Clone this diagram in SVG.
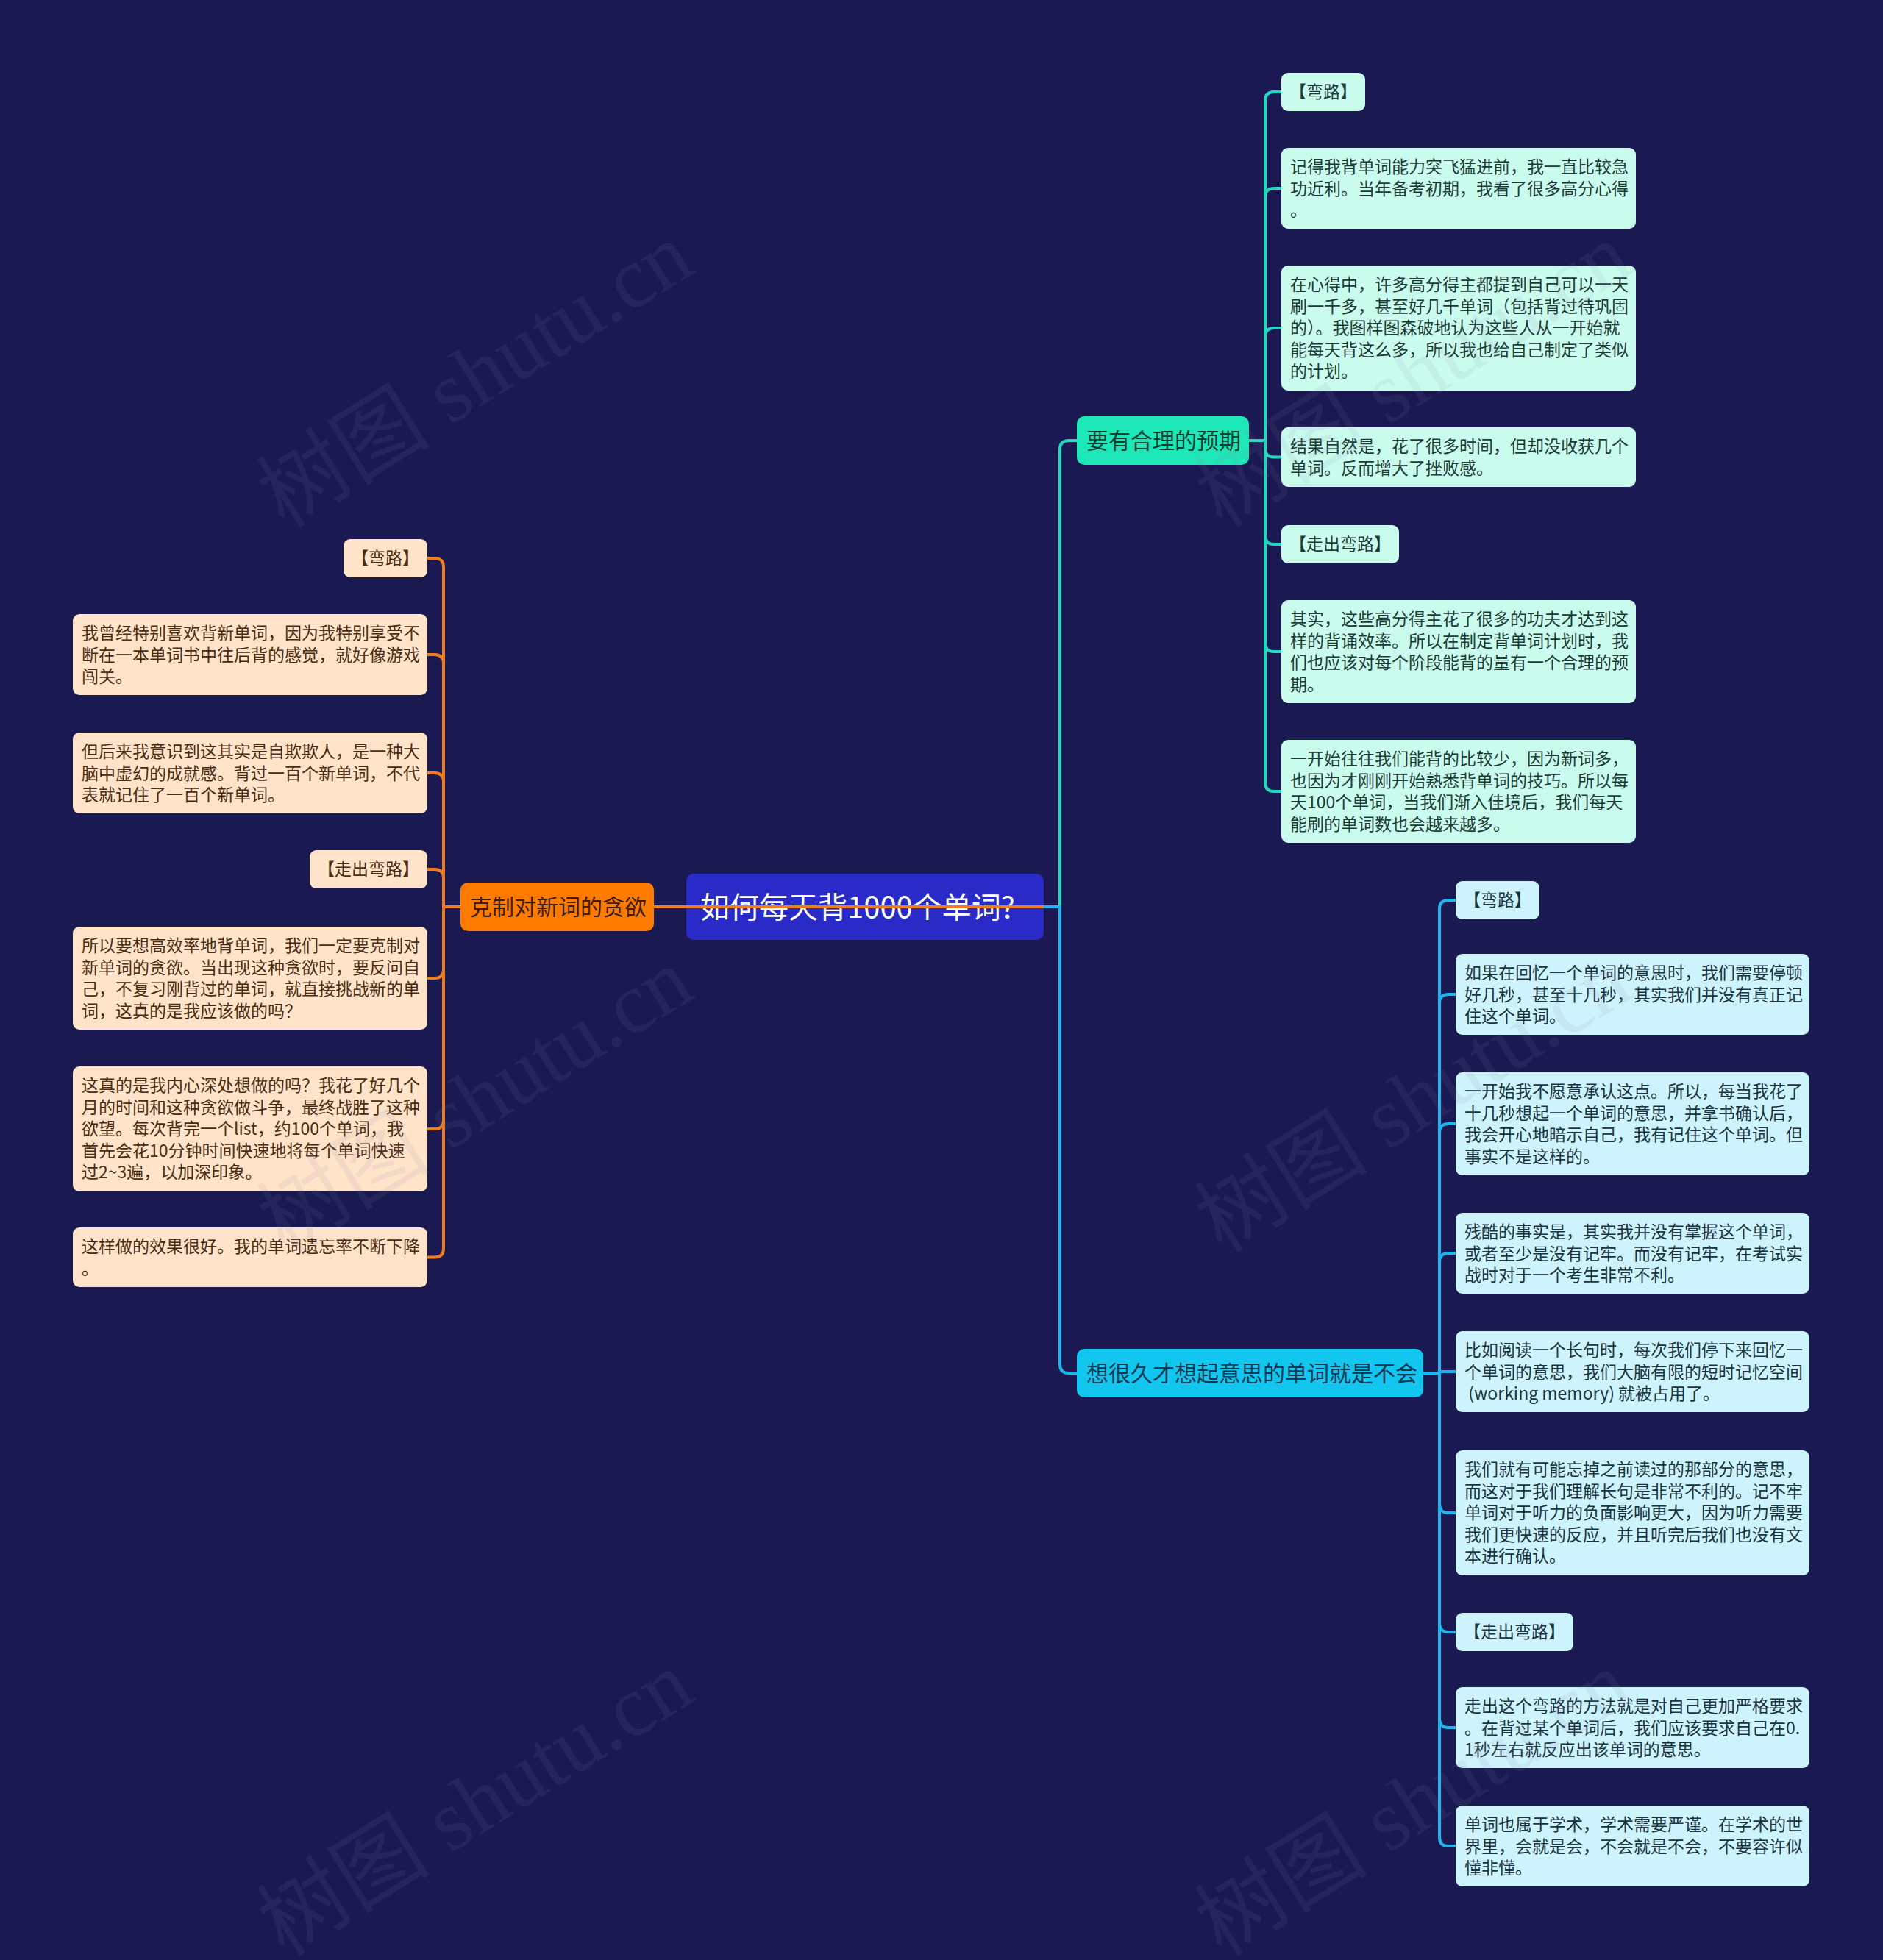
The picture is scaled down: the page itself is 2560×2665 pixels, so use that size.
<svg xmlns="http://www.w3.org/2000/svg" width="2560" height="2665" viewBox="0 0 2560 2665">
<style>
text{font-family:"Noto Sans CJK SC","Noto Sans",sans-serif}
.s{font-size:23px}
.m{font-size:30px}
.rt{fill:#2a2ac8}
.rtt{font-size:40px;fill:#ffffff}
.bo{fill:#ff7b00}.bot{fill:#3d1e00}
.bt{fill:#1de7b6}.btt{fill:#0c3d33}
.bb{fill:#12c6ef}.bbt{fill:#0b3a52}
.co{fill:#ffe4c9}.cot{fill:#4b2c12}
.ct{fill:#cafcee}.ctt{fill:#1c3b36}
.cb{fill:#cdf3fc}.cbt{fill:#1a3340}
.lo{fill:none;stroke:#f07d1c;stroke-width:4}
.lt{fill:none;stroke:#22d9c0;stroke-width:4}
.lb{fill:none;stroke:#1db6ee;stroke-width:4}
.wm{font-family:"Liberation Serif","Noto Sans CJK SC",serif;font-size:118px;fill:#8a8aa8;opacity:0.11}
</style>
<rect x="0" y="0" width="2560" height="2665" fill="#1a1952"/>

<g id="root"><rect class="rt" x="933" y="1188" width="486" height="90" rx="10"/><text class="rtt" x="952" y="1248">如何每天背1000个单词?</text></g>

<g id="b-left"><rect class="bo" x="626" y="1200" width="263" height="66" rx="10"/><text class="m bot" x="639" y="1244">克制对新词的贪欲</text></g>
<g id="b-r1"><rect class="bt" x="1464" y="566" width="234" height="66" rx="10"/><text class="m btt" x="1477" y="610">要有合理的预期</text></g>
<g id="b-r2"><rect class="bb" x="1464" y="1834" width="471" height="66" rx="10"/><text class="m bbt" x="1477" y="1878">想很久才想起意思的单词就是不会</text></g>

<g id="l1"><rect class="co" x="467" y="733" width="114" height="52" rx="9"/><text class="s cot" x="478" y="767">【弯路】</text></g>
<g id="l2"><rect class="co" x="99" y="835" width="482" height="110" rx="9"/><text class="s cot" x="111" y="869"><tspan x="111">我曾经特别喜欢背新单词，因为我特别享受不</tspan><tspan x="111" dy="29.5">断在一本单词书中往后背的感觉，就好像游戏</tspan><tspan x="111" dy="29.5">闯关。</tspan></text></g>
<g id="l3"><rect class="co" x="99" y="996" width="482" height="110" rx="9"/><text class="s cot" x="111" y="1030"><tspan x="111">但后来我意识到这其实是自欺欺人，是一种大</tspan><tspan x="111" dy="29.5">脑中虚幻的成就感。背过一百个新单词，不代</tspan><tspan x="111" dy="29.5">表就记住了一百个新单词。</tspan></text></g>
<g id="l4"><rect class="co" x="421" y="1156" width="160" height="52" rx="9"/><text class="s cot" x="432" y="1190">【走出弯路】</text></g>
<g id="l5"><rect class="co" x="99" y="1260" width="482" height="140" rx="9"/><text class="s cot" x="111" y="1294"><tspan x="111">所以要想高效率地背单词，我们一定要克制对</tspan><tspan x="111" dy="29.5">新单词的贪欲。当出现这种贪欲时，要反问自</tspan><tspan x="111" dy="29.5">己，不复习刚背过的单词，就直接挑战新的单</tspan><tspan x="111" dy="29.5">词，这真的是我应该做的吗？</tspan></text></g>
<g id="l6"><rect class="co" x="99" y="1450" width="482" height="170" rx="9"/><text class="s cot" x="111" y="1484"><tspan x="111">这真的是我内心深处想做的吗？我花了好几个</tspan><tspan x="111" dy="29.5">月的时间和这种贪欲做斗争，最终战胜了这种</tspan><tspan x="111" dy="29.5">欲望。每次背完一个list，约100个单词，我</tspan><tspan x="111" dy="29.5">首先会花10分钟时间快速地将每个单词快速</tspan><tspan x="111" dy="29.5">过2~3遍，以加深印象。</tspan></text></g>
<g id="l7"><rect class="co" x="99" y="1669" width="482" height="81" rx="9"/><text class="s cot" x="111" y="1703"><tspan x="111">这样做的效果很好。我的单词遗忘率不断下降</tspan><tspan x="111" dy="29.5">。</tspan></text></g>

<g id="r1a"><rect class="ct" x="1742" y="99" width="114" height="52" rx="9"/><text class="s ctt" x="1753" y="133">【弯路】</text></g>
<g id="r1b"><rect class="ct" x="1742" y="201" width="482" height="110" rx="9"/><text class="s ctt" x="1754" y="235"><tspan x="1754">记得我背单词能力突飞猛进前，我一直比较急</tspan><tspan x="1754" dy="29.5">功近利。当年备考初期，我看了很多高分心得</tspan><tspan x="1754" dy="29.5">。</tspan></text></g>
<g id="r1c"><rect class="ct" x="1742" y="361" width="482" height="170" rx="9"/><text class="s ctt" x="1754" y="395"><tspan x="1754">在心得中，许多高分得主都提到自己可以一天</tspan><tspan x="1754" dy="29.5">刷一千多，甚至好几千单词（包括背过待巩固</tspan><tspan x="1754" dy="29.5">的）。我图样图森破地认为这些人从一开始就</tspan><tspan x="1754" dy="29.5">能每天背这么多，所以我也给自己制定了类似</tspan><tspan x="1754" dy="29.5">的计划。</tspan></text></g>
<g id="r1d"><rect class="ct" x="1742" y="581" width="482" height="81" rx="9"/><text class="s ctt" x="1754" y="615"><tspan x="1754">结果自然是，花了很多时间，但却没收获几个</tspan><tspan x="1754" dy="29.5">单词。反而增大了挫败感。</tspan></text></g>
<g id="r1e"><rect class="ct" x="1742" y="714" width="160" height="52" rx="9"/><text class="s ctt" x="1753" y="748">【走出弯路】</text></g>
<g id="r1f"><rect class="ct" x="1742" y="816" width="482" height="140" rx="9"/><text class="s ctt" x="1754" y="850"><tspan x="1754">其实，这些高分得主花了很多的功夫才达到这</tspan><tspan x="1754" dy="29.5">样的背诵效率。所以在制定背单词计划时，我</tspan><tspan x="1754" dy="29.5">们也应该对每个阶段能背的量有一个合理的预</tspan><tspan x="1754" dy="29.5">期。</tspan></text></g>
<g id="r1g"><rect class="ct" x="1742" y="1006" width="482" height="140" rx="9"/><text class="s ctt" x="1754" y="1040"><tspan x="1754">一开始往往我们能背的比较少，因为新词多，</tspan><tspan x="1754" dy="29.5">也因为才刚刚开始熟悉背单词的技巧。所以每</tspan><tspan x="1754" dy="29.5">天100个单词，当我们渐入佳境后，我们每天</tspan><tspan x="1754" dy="29.5">能刷的单词数也会越来越多。</tspan></text></g>

<g id="r2a"><rect class="cb" x="1979" y="1198" width="114" height="52" rx="9"/><text class="s cbt" x="1990" y="1232">【弯路】</text></g>
<g id="r2b"><rect class="cb" x="1979" y="1297" width="481" height="110" rx="9"/><text class="s cbt" x="1991" y="1331"><tspan x="1991">如果在回忆一个单词的意思时，我们需要停顿</tspan><tspan x="1991" dy="29.5">好几秒，甚至十几秒，其实我们并没有真正记</tspan><tspan x="1991" dy="29.5">住这个单词。</tspan></text></g>
<g id="r2c"><rect class="cb" x="1979" y="1458" width="481" height="140" rx="9"/><text class="s cbt" x="1991" y="1492"><tspan x="1991">一开始我不愿意承认这点。所以，每当我花了</tspan><tspan x="1991" dy="29.5">十几秒想起一个单词的意思，并拿书确认后，</tspan><tspan x="1991" dy="29.5">我会开心地暗示自己，我有记住这个单词。但</tspan><tspan x="1991" dy="29.5">事实不是这样的。</tspan></text></g>
<g id="r2d"><rect class="cb" x="1979" y="1649" width="481" height="110" rx="9"/><text class="s cbt" x="1991" y="1683"><tspan x="1991">残酷的事实是，其实我并没有掌握这个单词，</tspan><tspan x="1991" dy="29.5">或者至少是没有记牢。而没有记牢，在考试实</tspan><tspan x="1991" dy="29.5">战时对于一个考生非常不利。</tspan></text></g>
<g id="r2e"><rect class="cb" x="1979" y="1810" width="481" height="110" rx="9"/><text class="s cbt" x="1991" y="1844" xml:space="preserve"><tspan x="1991">比如阅读一个长句时，每次我们停下来回忆一</tspan><tspan x="1991" dy="29.5">个单词的意思，我们大脑有限的短时记忆空间</tspan><tspan x="1991" dy="29.5"> (working memory) 就被占用了。</tspan></text></g>
<g id="r2f"><rect class="cb" x="1979" y="1972" width="481" height="170" rx="9"/><text class="s cbt" x="1991" y="2006"><tspan x="1991">我们就有可能忘掉之前读过的那部分的意思，</tspan><tspan x="1991" dy="29.5">而这对于我们理解长句是非常不利的。记不牢</tspan><tspan x="1991" dy="29.5">单词对于听力的负面影响更大，因为听力需要</tspan><tspan x="1991" dy="29.5">我们更快速的反应，并且听完后我们也没有文</tspan><tspan x="1991" dy="29.5">本进行确认。</tspan></text></g>
<g id="r2g"><rect class="cb" x="1979" y="2193" width="160" height="52" rx="9"/><text class="s cbt" x="1990" y="2227">【走出弯路】</text></g>
<g id="r2h"><rect class="cb" x="1979" y="2294" width="481" height="110" rx="9"/><text class="s cbt" x="1991" y="2328"><tspan x="1991">走出这个弯路的方法就是对自己更加严格要求</tspan><tspan x="1991" dy="29.5">。在背过某个单词后，我们应该要求自己在0.</tspan><tspan x="1991" dy="29.5">1秒左右就反应出该单词的意思。</tspan></text></g>
<g id="r2i"><rect class="cb" x="1979" y="2455" width="481" height="110" rx="9"/><text class="s cbt" x="1991" y="2489"><tspan x="1991">单词也属于学术，学术需要严谨。在学术的世</tspan><tspan x="1991" dy="29.5">界里，会就是会，不会就是不会，不要容许似</tspan><tspan x="1991" dy="29.5">懂非懂。</tspan></text></g>

<g id="connectors">
<path class="lt" d="M1419,1233 H1441 V611 Q1441,599 1453,599 H1464"/>
<path class="lb" d="M1419,1233 H1441 V1855 Q1441,1867 1453,1867 H1464"/>
<path class="lo" d="M1419,1233 H889"/>
<path class="lo" d="M626,1233 H603"/>
<path class="lo" d="M603,1233 V771 Q603,759 591,759 H581"/>
<path class="lo" d="M603,1233 V902 Q603,890 591,890 H581"/>
<path class="lo" d="M603,1233 V1063 Q603,1051 591,1051 H581"/>
<path class="lo" d="M603,1233 V1194 Q603,1182 591,1182 H581"/>
<path class="lo" d="M603,1233 V1318 Q603,1330 591,1330 H581"/>
<path class="lo" d="M603,1233 V1523 Q603,1535 591,1535 H581"/>
<path class="lo" d="M603,1233 V1697.5 Q603,1709.5 591,1709.5 H581"/>
<path class="lt" d="M1698,599 H1720"/>
<path class="lt" d="M1720,599 V137 Q1720,125 1732,125 H1742"/>
<path class="lt" d="M1720,599 V268 Q1720,256 1732,256 H1742"/>
<path class="lt" d="M1720,599 V458 Q1720,446 1732,446 H1742"/>
<path class="lt" d="M1720,599 V609.5 Q1720,621.5 1732,621.5 H1742"/>
<path class="lt" d="M1720,599 V728 Q1720,740 1732,740 H1742"/>
<path class="lt" d="M1720,599 V874 Q1720,886 1732,886 H1742"/>
<path class="lt" d="M1720,599 V1064 Q1720,1076 1732,1076 H1742"/>
<path class="lb" d="M1935,1867 H1957"/>
<path class="lb" d="M1957,1867 V1236 Q1957,1224 1969,1224 H1979"/>
<path class="lb" d="M1957,1867 V1364 Q1957,1352 1969,1352 H1979"/>
<path class="lb" d="M1957,1867 V1540 Q1957,1528 1969,1528 H1979"/>
<path class="lb" d="M1957,1867 V1716 Q1957,1704 1969,1704 H1979"/>
<path class="lb" d="M1957,1865 H1979"/>
<path class="lb" d="M1957,1867 V2045 Q1957,2057 1969,2057 H1979"/>
<path class="lb" d="M1957,1867 V2207 Q1957,2219 1969,2219 H1979"/>
<path class="lb" d="M1957,1867 V2337 Q1957,2349 1969,2349 H1979"/>
<path class="lb" d="M1957,1867 V2498 Q1957,2510 1969,2510 H1979"/>
</g>

<g id="watermark">
<text class="wm" x="646" y="550" text-anchor="middle" transform="rotate(-32 646 510)">树图 shutu.cn</text>
<text class="wm" x="646" y="1536" text-anchor="middle" transform="rotate(-32 646 1496)">树图 shutu.cn</text>
<text class="wm" x="646" y="2492" text-anchor="middle" transform="rotate(-32 646 2452)">树图 shutu.cn</text>
<text class="wm" x="1921" y="550" text-anchor="middle" transform="rotate(-32 1921 510)">树图 shutu.cn</text>
<text class="wm" x="1921" y="1536" text-anchor="middle" transform="rotate(-32 1921 1496)">树图 shutu.cn</text>
<text class="wm" x="1921" y="2492" text-anchor="middle" transform="rotate(-32 1921 2452)">树图 shutu.cn</text>
</g>
</svg>
